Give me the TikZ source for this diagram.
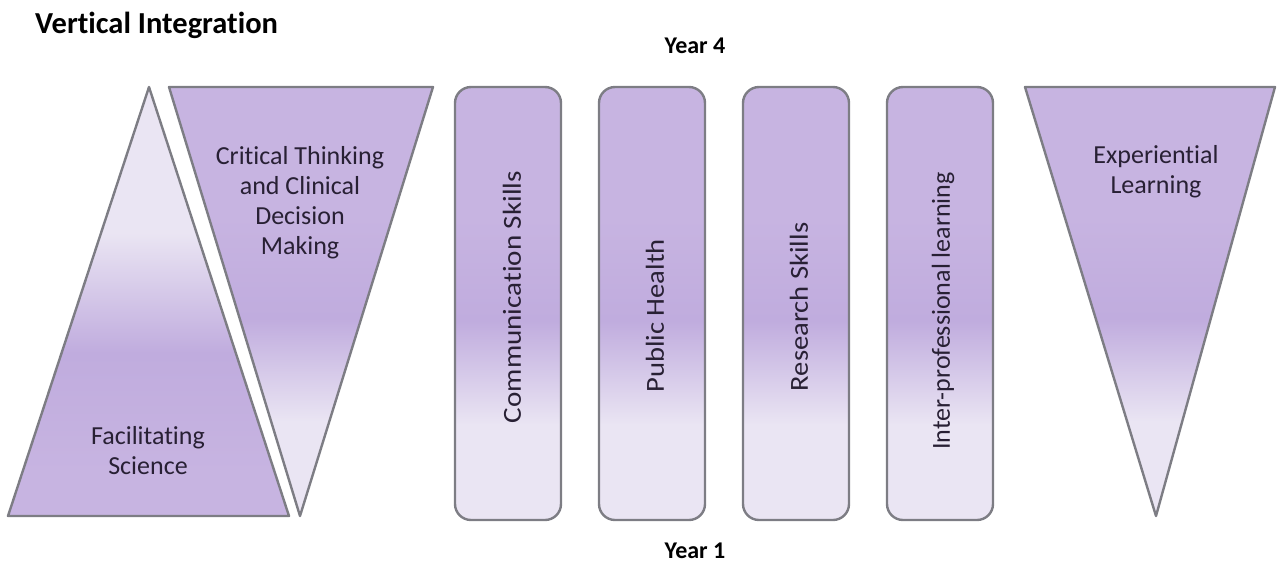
\documentclass[tikz,border=0pt]{standalone}
\usepackage{fontspec}
\usepackage{graphicx}
\setmainfont{Carlito}[RawFeature={-liga;-dlig}]
\definecolor{pdark}{RGB}{178,152,216}
\definecolor{pmid}{RGB}{199,180,225}
\definecolor{pband}{RGB}{192,172,222}
\definecolor{plight}{RGB}{234,229,243}
\definecolor{edge}{RGB}{125,125,132}
\definecolor{txt}{RGB}{40,32,52}
\pgfdeclareverticalshading{downsh}{100bp}{color(0bp)=(plight); color(36bp)=(plight); color(48bp)=(pband); color(60bp)=(pmid); color(86bp)=(pmid); color(100bp)=(pdark)}
\pgfdeclareverticalshading{upsh}{100bp}{color(0bp)=(pdark); color(8bp)=(pmid); color(30bp)=(pmid); color(44bp)=(pband); color(58bp)=(plight); color(100bp)=(plight)}
\begin{document}
\begin{tikzpicture}[x=1pt,y=-1pt,
  shapeedge/.style={draw=edge, line width=2.4pt, line join=round},
  pillar/.style={shapeedge, shading=downsh, rounded corners=16pt, minimum width=106pt, minimum height=433pt, inner sep=0pt},
  lbl/.style={text=txt, font=\fontsize{26}{30}\selectfont, align=center},
  vlbl/.style={text=txt, font=\fontsize{26}{30}\selectfont, rotate=90},
  head/.style={text=black, font=\bfseries\fontsize{24}{28}\selectfont}]
\useasboundingbox (0,0) rectangle (1278,574);
% title
\node[anchor=base west, text=black, font=\bfseries\fontsize{30.5}{34}\selectfont, inner sep=0pt] (title) at (35,33) {Vertical Integration};
\node[head, anchor=base, inner sep=0pt] (y4) at (695,53) {Year 4};
\node[head, anchor=base, inner sep=0pt] (y1) at (695,558) {Year 1};
% facilitating science triangle
\path[shapeedge, shading=upsh] (149,87) -- (289,516) -- (8,516) -- cycle;
\node[lbl] (fs) at (148,451) {Facilitating\\Science};
% critical thinking inverted triangle
\path[shapeedge, shading=downsh] (169,87) -- (433,87) -- (300,516) -- cycle;
\node[lbl] (ct) at (300,203) {Critical Thinking\\and Clinical\\Decision\\Making};
% pillars
\node[pillar] (p1) at (508,303.5) {};
\node[pillar] (p2) at (652,303.5) {};
\node[pillar] (p3) at (796,303.5) {};
\node[pillar] (p4) at (940,303.5) {};
\node[vlbl] (t1) at (512,297) {\scalebox{1.12}[1]{Communication Skills}};
\node[vlbl] (t2) at (655,316) {\scalebox{1.1}[1]{Public Health}};
\node[vlbl] (t3) at (799,307) {\scalebox{1.1}[1]{Research Skills}};
\node[vlbl] (t4) at (943,311) {Inter-professional learning};
% experiential learning inverted triangle
\path[shapeedge, shading=downsh] (1025,87) -- (1275,87) -- (1156,516) -- cycle;
\node[lbl] (el) at (1156,172) {Experiential\\Learning};
\end{tikzpicture}
\end{document}
